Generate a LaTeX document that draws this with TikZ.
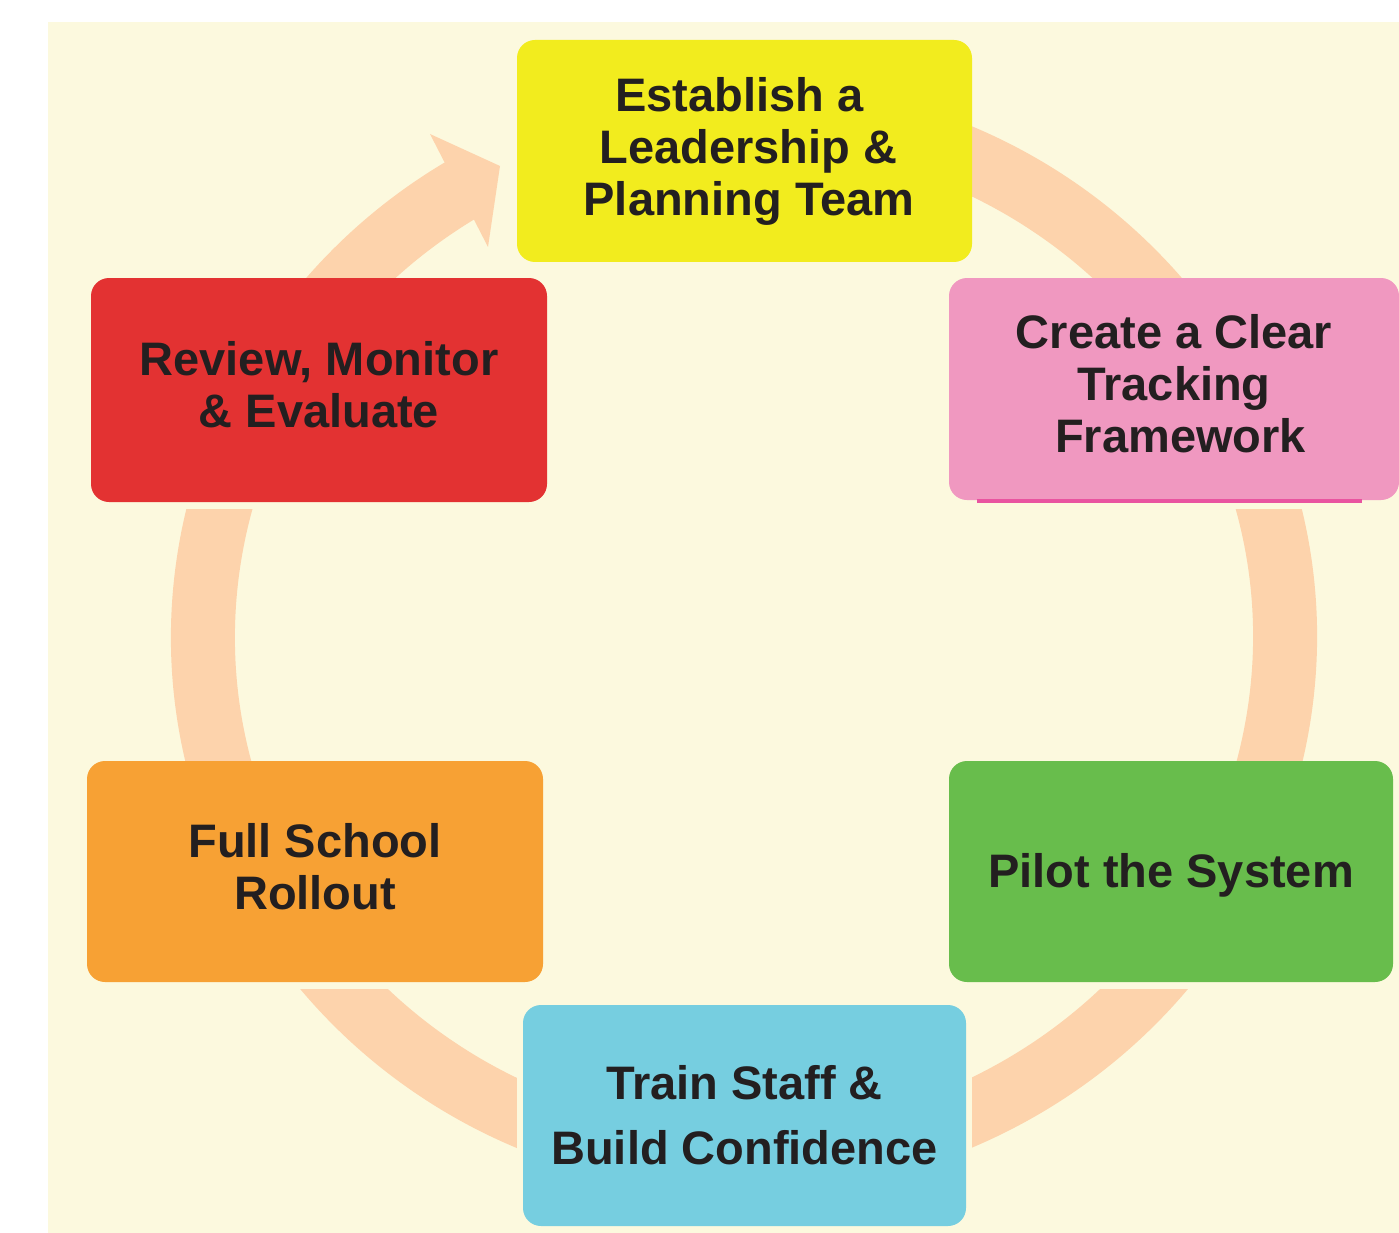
\documentclass[tikz,border=0pt]{standalone}
\usepackage{fontspec}
\setmainfont{Liberation Sans}
\definecolor{bgc}{RGB}{252,249,222}
\definecolor{ringc}{RGB}{253,211,172}
\definecolor{leadc}{RGB}{242,236,30}
\definecolor{trackc}{RGB}{240,152,192}
\definecolor{magc}{RGB}{233,84,160}
\definecolor{reviewc}{RGB}{227,50,50}
\definecolor{rolloutc}{RGB}{247,161,52}
\definecolor{pilotc}{RGB}{104,189,76}
\definecolor{trainc}{RGB}{118,206,224}
\definecolor{ink}{RGB}{35,31,32}
\pgfdeclarelayer{backdrop}
\pgfdeclarelayer{cycle}
\pgfsetlayers{backdrop,cycle,main}
% invisible depth / height props to balance lines inside the boxes
\newcommand{\lowprop}{\rule[-11pt]{0pt}{1pt}}
\newcommand{\highprop}{\rule{0pt}{42pt}}
\begin{document}
\begin{tikzpicture}[x=1pt,y=-1pt,
  stage/.style={rounded corners=18pt, inner sep=0pt, text=ink,
    font=\bfseries\fontsize{47}{52}\selectfont, align=center},
  clear/.style={fill=bgc}]
\useasboundingbox (0,0) rectangle (1399,1233);

% stage boxes
\node[stage, fill=leadc, minimum width=455, minimum height=222] (lead) at (744.5,151)
  {\hspace*{-2pt}Establish a\hspace*{8pt}\\\hspace*{8pt}Leadership \&\\\hspace*{9pt}Planning Team};
\node[stage, fill=trackc, minimum width=450, minimum height=222] (track) at (1174,389)
  {Create a Clear\\Tracking\\\hspace*{13pt}Framework\lowprop};
\node[stage, fill=pilotc, minimum width=444, minimum height=221] (pilot) at (1171,871.5)
  {\highprop Pilot the System};
\node[stage, fill=trainc, minimum width=443, minimum height=221,
  font=\bfseries\fontsize{47}{65}\selectfont] (train) at (744.5,1115.5)
  {Train Staff \&\\Build Confidence};
\node[stage, fill=rolloutc, minimum width=456, minimum height=221] (rollout) at (315,871.5)
  {Full School\\Rollout\lowprop};
\node[stage, fill=reviewc, minimum width=456, minimum height=224] (review) at (319,390)
  {Review, Monitor\\\& Evaluate\lowprop};

% underline along the bottom of the tracking box
\draw[magc, line width=3.5] ([xshift=28pt,yshift=-1pt]track.south west) -- ([xshift=-37pt,yshift=-1pt]track.south east);

\begin{pgfonlayer}{backdrop}
  \fill[bgc] (48,22) rectangle (1399,1233);
\end{pgfonlayer}

\begin{pgfonlayer}{cycle}
  % circular arrow running clockwise behind the boxes
  \coordinate (hub) at (744,637);
  \draw[ringc, line width=64] (hub) ++(-80:541 and 524.5)
    arc[start angle=-80, end angle=239, x radius=541, y radius=524.5];
  \coordinate (barbA) at (430,134);
  \coordinate (tip) at (500,166);
  \coordinate (barbB) at (488,247);
  \fill[ringc] (barbA) -- (tip) -- (barbB) -- cycle;
  % small clearances between the ring and the boxes
  \fill[clear] (review.south west) rectangle ++(456,7);
  \fill[clear] (track.south west) rectangle ++(450,9);
  \fill[clear] (rollout.south west) rectangle ++(456,7);
  \fill[clear] (pilot.south west) rectangle ++(444,7);
  \fill[clear] (train.north west) rectangle ++(-6,221);
  \fill[clear] (train.north east) rectangle ++(6,221);
\end{pgfonlayer}
\end{tikzpicture}
\end{document}
